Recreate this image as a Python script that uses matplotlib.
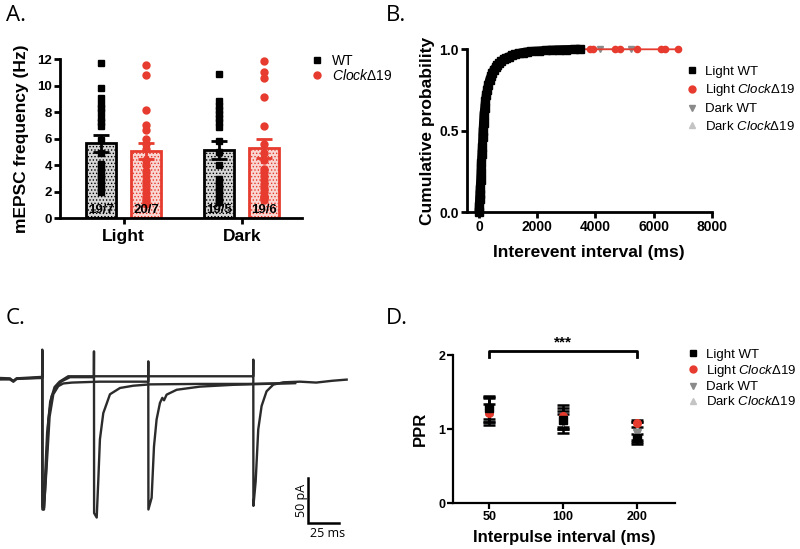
import matplotlib
matplotlib.use('Agg')
import matplotlib.pyplot as plt
from matplotlib.lines import Line2D

plt.rcParams['font.family'] = ['Liberation Sans', 'DejaVu Sans']
plt.rcParams['mathtext.fontset'] = 'custom'
plt.rcParams['mathtext.it'] = 'Liberation Sans:italic'
plt.rcParams['mathtext.rm'] = 'Liberation Sans'
plt.rcParams['hatch.linewidth'] = 0.6

RED = '#e63b2e'
GREY = '#8a8a8a'
LGREY = '#c4c4c4'
CLOCK = r'$\it{Clock}$Δ19'

# ---------------- Panel A data ----------------
groups = ['Light', 'Dark']
mean_wt = [5.65, 5.15]
sem_wt = [0.65, 0.70]
mean_clock = [5.10, 5.28]
sem_clock = [0.60, 0.70]
n_wt = ['19/7', '19/5']
n_clock = ['20/7', '19/6']
pts_light_wt = [11.7, 9.85, 9.1, 8.6, 8.3, 8.0, 7.6, 7.3, 7.0, 5.9, 4.9, 4.1, 3.8, 3.5, 3.2, 2.9, 2.6, 2.3, 2.0]
pts_light_clock = [11.6, 10.85, 8.15, 7.05, 6.65, 6.0, 5.6, 5.2, 4.4, 4.0, 3.6, 3.2, 2.8, 2.5, 2.2, 1.9, 1.6, 1.4, 1.2, 1.1]
pts_dark_wt = [10.9, 8.85, 8.5, 8.2, 7.9, 7.6, 7.3, 6.9, 5.8, 5.0, 4.0, 3.0, 2.7, 2.4, 2.1, 1.8, 1.5, 1.3, 1.2]
pts_dark_clock = [11.9, 11.05, 10.6, 9.15, 7.0, 5.6, 4.9, 4.4, 3.75, 3.5, 3.2, 2.9, 2.6, 2.3, 2.0, 1.7, 1.6, 1.5, 1.4]

# ---------------- Panel B data ----------------
curve_int = [0, 10, 20, 30, 40, 57, 70, 80, 100, 115, 130, 140, 155, 172, 195, 220, 250, 287, 320,
             360, 410, 460, 510, 570, 630, 690, 770, 850, 940, 1035, 1140, 1250, 1370, 1495, 1650,
             1800, 2070, 2300, 2500, 2750, 2990, 3250, 3480]
curve_cum = [0.0, 0.04, 0.08, 0.11, 0.14, 0.20, 0.25, 0.30, 0.36, 0.40, 0.46, 0.50, 0.55, 0.60,
             0.64, 0.68, 0.72, 0.75, 0.78, 0.81, 0.835, 0.855, 0.875, 0.89, 0.903, 0.915, 0.928,
             0.94, 0.948, 0.955, 0.963, 0.97, 0.975, 0.98, 0.984, 0.987, 0.99, 0.993, 0.995, 0.997,
             0.998, 0.999, 1.0]
light_clock_tail_int = [3830, 3935, 4690, 4830, 5415, 6245, 6380, 6830]
light_clock_tail_cum = [1.0, 1.0, 1.0, 1.0, 1.0, 1.0, 1.0, 1.0]
dark_wt_tail_int = [4175, 5210]
dark_wt_tail_cum = [1.0, 1.0]

# ---------------- Panel C data (ms, pA) ----------------
sweep50_t = [0, 8, 10.8, 13.4, 32.3, 34.0, 34.1, 34.2, 35.5, 36.8, 39, 41.7, 45.7, 49.7, 56.5,
             75.7, 75.8, 75.9, 78, 79.3, 80.6, 83.3, 88.7, 96.8, 107.5, 121, 161, 200, 238]
sweep50_i = [1.1, 0.7, -2.6, 0.7, 2.2, 2.2, 32.6, -145, -145, -112, -45, -19, -8, -2.6, 2.0,
             2.0, 30.7, -149, -154, -112, -67, -38, -17, -10, -7.5, -6, -5.5, -5.5, -4.5]
sweep100_t = [0, 8, 10.8, 13.4, 32.3, 34.0, 34.1, 34.2, 35.5, 37.5, 40, 43, 47, 51, 58, 80,
              119.5, 119.6, 119.7, 122.3, 124.2, 126.3, 129, 130.9, 132.3, 134.4, 142.5, 161.3,
              188, 238]
sweep100_i = [0, -0.5, -3.0, 0, 1.5, 1.5, 30, -140, -143, -100, -42, -17, -8, -5, -4, -3,
              -3, 19.6, -145, -132, -75, -45, -26.7, -21, -23.7, -17.4, -12, -8.5, -6.5, -4.5]
sweep200_t = [0, 8, 10.8, 13.4, 32.3, 34.0, 34.1, 34.2, 35.0, 36.0, 38, 40.5, 44, 48, 55,
              204.2, 204.3, 204.4, 206.2, 208.3, 211, 215, 220.4, 228.5, 242, 255, 268, 279.6]
sweep200_i = [-0.5, 0, -2.0, 0.5, 1.0, 1.0, 31, -142, -145, -120, -60, -25, -9, -3, 3.0,
              3.0, 21.5, -141, -114, -56, -30, -13.7, -6.3, -3.7, -3.0, -4.0, -2.0, -0.7]
scale_ms = 25
scale_pa = 50

# ---------------- Panel D data ----------------
intervals = ['50', '100', '200']
ppr_light_wt = [1.28, 1.12, 0.88]
ppr_light_wt_err = [0.14, 0.12, 0.05]
ppr_light_clock = [1.22, 1.18, 1.08]
ppr_light_clock_err = [0.12, 0.15, 0.05]
ppr_dark_wt = [1.27, 1.10, 0.95]
ppr_dark_wt_err = [0.18, 0.10, 0.15]
ppr_dark_clock = [1.24, 1.12, 0.97]
ppr_dark_clock_err = [0.19, 0.17, 0.12]

W, H = 800, 549
fig = plt.figure(figsize=(8, 5.49), dpi=100)


def rect(x0, y0, x1, y1):
    return [x0 / W, 1 - y1 / H, (x1 - x0) / W, (y1 - y0) / H]


def style_axes(ax, lw=2.0):
    for s in ['top', 'right']:
        ax.spines[s].set_visible(False)
    for s in ['left', 'bottom']:
        ax.spines[s].set_linewidth(lw)
    ax.tick_params(width=lw, length=4, labelsize=9.5, pad=1.5)
    for lab in ax.get_xticklabels() + ax.get_yticklabels():
        lab.set_fontweight('bold')


# ======== Panel A ========
axA = fig.add_axes(rect(60, 59.3, 302, 218.3))
xc = [0, 1]
off = 0.19
bw = 0.254
xw = [x - off for x in xc]
xk = [x + off for x in xc]
axA.bar(xw, mean_wt, width=bw, facecolor='#d6d6d6', edgecolor='black', linewidth=2.0,
        hatch='.....', zorder=1)
axA.bar(xk, mean_clock, width=bw, facecolor='#f9d6d2', edgecolor=RED, linewidth=2.0,
        hatch='.....', zorder=1)
for x, pts in zip(xw, [pts_light_wt, pts_dark_wt]):
    axA.plot([x] * len(pts), pts, 's', color='black', ms=5, zorder=3, clip_on=False)
for x, pts in zip(xk, [pts_light_clock, pts_dark_clock]):
    axA.plot([x] * len(pts), pts, 'o', color=RED, ms=5, zorder=3, clip_on=False)
axA.errorbar(xw, mean_wt, yerr=sem_wt, fmt='none', ecolor='black', elinewidth=2, capsize=6,
             capthick=2, zorder=4)
axA.errorbar(xk, mean_clock, yerr=sem_clock, fmt='none', ecolor=RED, elinewidth=2, capsize=6,
             capthick=2, zorder=4)
for x, t in zip(xw, n_wt):
    axA.text(x, 0.6, t, ha='center', va='center', fontsize=9.5, fontweight='bold', zorder=5)
for x, t in zip(xk, n_clock):
    axA.text(x, 0.6, t, ha='center', va='center', fontsize=9.5, fontweight='bold', zorder=5)
axA.set_xlim(-0.54, 1.51)
axA.set_ylim(0, 12)
axA.set_yticks([0, 2, 4, 6, 8, 10, 12])
axA.set_xticks(xc)
axA.set_xticklabels(groups)
style_axes(axA)
axA.tick_params(axis='x', labelsize=12.5, pad=4)
axA.set_ylabel('mEPSC frequency (Hz)', fontsize=12.5, fontweight='bold', labelpad=6)
hA = [Line2D([], [], marker='s', color='black', ls='none', ms=5),
      Line2D([], [], marker='o', color=RED, ls='none', ms=5)]
fig.legend(hA, ['WT', CLOCK], loc='upper left', bbox_to_anchor=(303 / W, 1 - 47 / H),
           frameon=False, fontsize=10, handletextpad=0.6, labelspacing=0.0,
           borderpad=0, handlelength=1.0)

# ======== Panel B ========
axB = fig.add_axes(rect(466.7, 49.3, 711.7, 212.3))
axB.plot(curve_int, curve_cum, marker='^', color=LGREY, ms=5, lw=1, zorder=1, clip_on=False)
axB.plot(curve_int + dark_wt_tail_int, curve_cum + dark_wt_tail_cum, marker='v', color=GREY,
         ms=5, lw=1, zorder=2, clip_on=False)
axB.plot(curve_int + light_clock_tail_int, curve_cum + light_clock_tail_cum, marker='o',
         color=RED, ms=4.5, lw=1.3, zorder=3, clip_on=False)
axB.plot(curve_int, curve_cum, color='black', lw=6.5, zorder=4, clip_on=False,
         solid_capstyle='butt')
axB.plot(curve_int, curve_cum, 's', color='black', ms=6, zorder=5, clip_on=False)
axB.set_xlim(-424, 8000)
axB.set_ylim(0, 1)
axB.set_xticks([0, 2000, 4000, 6000, 8000])
axB.set_yticks([0, 0.5, 1.0])
axB.set_yticklabels(['0.0', '0.5', '1.0'])
style_axes(axB)
axB.tick_params(labelsize=10)
axB.set_ylabel('Cumulative probability', fontsize=12.5, fontweight='bold', labelpad=3)
axB.set_xlabel('Interevent interval (ms)', fontsize=12.5, fontweight='bold', labelpad=8)
hB = [Line2D([], [], marker='s', color='black', ls='none', ms=5),
      Line2D([], [], marker='o', color=RED, ls='none', ms=5),
      Line2D([], [], marker='v', color=GREY, ls='none', ms=5),
      Line2D([], [], marker='^', color=LGREY, ls='none', ms=5)]
fig.legend(hB, ['Light WT', 'Light ' + CLOCK, 'Dark WT', 'Dark ' + CLOCK], loc='upper left',
           bbox_to_anchor=(679 / W, 1 - 59 / H), frameon=False, fontsize=9.5,
           handletextpad=0.5, labelspacing=0.35, borderpad=0, handlelength=1.0)

# ======== Panel C ========
axC = fig.add_axes(rect(0, 340, 350, 530))
tc = '#2b2b2b'
axC.plot(sweep200_t, sweep200_i, color=tc, lw=1.7)
axC.plot(sweep100_t, sweep100_i, color=tc, lw=1.7)
axC.plot(sweep50_t, sweep50_i, color=tc, lw=1.7)
axC.set_xlim(0, 282.3)
axC.set_ylim(-167.8, 43.3)
axC.axis('off')
sb_x, sb_y = 248.4, -160
axC.plot([sb_x, sb_x, sb_x + scale_ms], [sb_y + scale_pa, sb_y, sb_y], color='black', lw=1.8,
         solid_joinstyle='miter', clip_on=False)
axC.text(sb_x - 5, sb_y + scale_pa / 2, f'{scale_pa} pA', rotation=90, ha='center',
         va='center', fontsize=9, family='Open Sans')
axC.text(sb_x + 16, sb_y - 12, f'{scale_ms} ms', ha='center', va='center', fontsize=9,
         family='Open Sans', clip_on=False)

# ======== Panel D ========
axD = fig.add_axes(rect(453.3, 355, 675, 503.3))
xd = [0, 1, 2]
series = [(ppr_dark_clock, ppr_dark_clock_err, '^', LGREY),
          (ppr_dark_wt, ppr_dark_wt_err, 'v', GREY),
          (ppr_light_clock, ppr_light_clock_err, 'o', RED),
          (ppr_light_wt, ppr_light_wt_err, 's', 'black')]
for k, (v, e, m, c) in enumerate(series):
    axD.errorbar(xd, v, yerr=e, fmt='none', ecolor='black', elinewidth=1.8, capsize=4.5,
                 capthick=1.8, zorder=2 + k)
    axD.plot(xd, v, m, color=c, ms=5.5, ls='none', zorder=6 + k)
axD.set_xlim(-0.49, 2.52)
axD.set_ylim(0, 2)
axD.set_xticks(xd)
axD.set_xticklabels(intervals)
axD.set_yticks([0, 1, 2])
style_axes(axD, lw=1.6)
axD.tick_params(labelsize=9)
axD.set_ylabel('PPR', fontsize=12, fontweight='bold', labelpad=8)
axD.set_xlabel('Interpulse interval (ms)', fontsize=12, fontweight='bold', labelpad=5)
br_y, br_drop = 2.05, 0.08
axD.plot([xd[0], xd[0], xd[2], xd[2]], [br_y - br_drop, br_y, br_y, br_y - br_drop],
         color='black', lw=2, clip_on=False)
axD.text(1, br_y + 0.03, '***', ha='center', va='bottom', fontsize=11, fontweight='bold')
hD = [Line2D([], [], marker='s', color='black', ls='none', ms=5),
      Line2D([], [], marker='o', color=RED, ls='none', ms=5),
      Line2D([], [], marker='v', color=GREY, ls='none', ms=5),
      Line2D([], [], marker='^', color=LGREY, ls='none', ms=5)]
fig.legend(hD, ['Light WT', 'Light ' + CLOCK, 'Dark WT', 'Dark ' + CLOCK], loc='upper left',
           bbox_to_anchor=(680 / W, 1 - 342 / H), frameon=False, fontsize=9.5,
           handletextpad=0.5, labelspacing=0.16, borderpad=0, handlelength=1.0)

# Panel letters
for lbl, x, y in [('A.', 6, 5), ('B.', 386, 5), ('C.', 6, 308), ('D.', 386, 308)]:
    fig.text(x / W, 1 - y / H, lbl, ha='left', va='top', fontsize=16, family='Open Sans')

fig.savefig('out.png', dpi=100)
